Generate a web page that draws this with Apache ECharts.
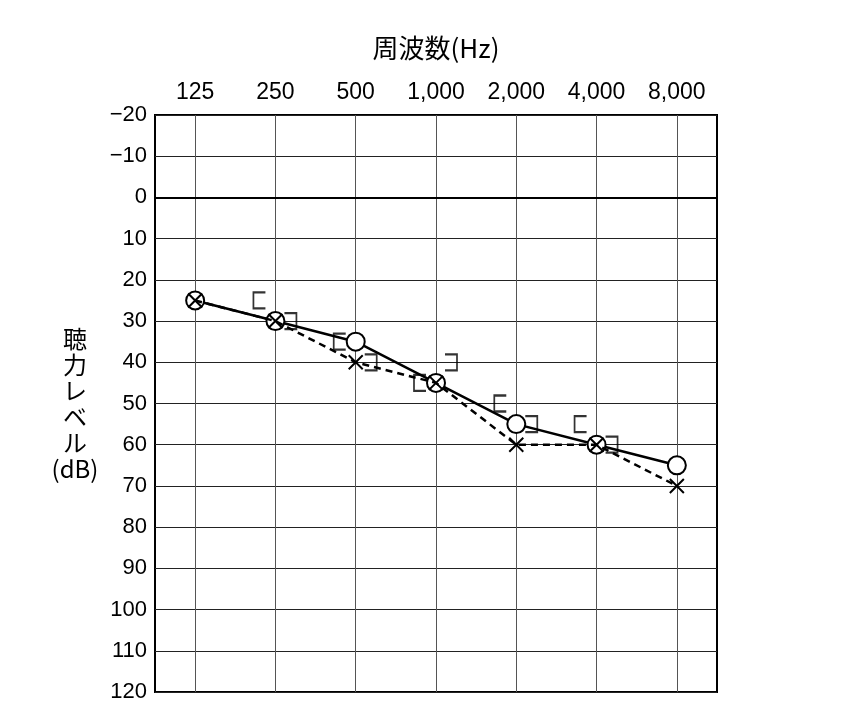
<!DOCTYPE html>
<html>
<head>
<meta charset="utf-8">
<script src="https://cdn.jsdelivr.net/npm/echarts@6/dist/echarts.min.js"></script>
<style>
html,body{margin:0;padding:0;background:#fff;}
#chart{width:847px;height:726px;}
</style>
</head>
<body>
<div id="chart"></div>
<script>
const categories = ['125', '250', '500', '1,000', '2,000', '4,000', '8,000'];
const rightAir = [25, 30, 35, 45, 55, 60, 65];
const leftAir = [25, 30, 40, 45, 60, 60, 70];
const rightBone = [null, 25, 35, 45, 50, 55, null];
const leftBone = [null, 30, 40, 40, 55, 60, null];
const yMin = -20, yMax = 120, yStep = 10;
const xTitle = '周波数(Hz)';
const yTitle = '聴\n力\nレ\nベ\nル\n(dB)';

const numFont = '"Liberation Sans", Arial, sans-serif';
const cjkFont = '"Noto Sans CJK JP", "Noto Sans", sans-serif';

const chart = echarts.init(document.getElementById('chart'), null, {renderer: 'canvas'});
chart.setOption({
  animation: false,
  backgroundColor: '#fff',
  grid: {left: 155, right: 130, top: 115, bottom: 34, show: true, borderColor: '#000', borderWidth: 2, backgroundColor: 'transparent'},
  xAxis: {
    type: 'category',
    position: 'top',
    data: categories,
    boundaryGap: true,
    name: xTitle,
    nameLocation: 'middle',
    nameGap: 54,
    nameTextStyle: {fontFamily: cjkFont, fontSize: 26, color: '#000'},
    axisLine: {show: false},
    axisTick: {show: false, alignWithLabel: true},
    axisLabel: {interval: 0, fontFamily: numFont, fontSize: 23, color: '#000', margin: 11},
    splitLine: {show: true, alignWithLabel: true, lineStyle: {color: '#555', width: 1}}
  },
  yAxis: {
    type: 'value',
    inverse: true,
    min: yMin,
    max: yMax,
    interval: yStep,
    name: yTitle,
    nameLocation: 'middle',
    nameRotate: 0,
    nameGap: 80,
    nameTextStyle: {fontFamily: cjkFont, fontSize: 24, color: '#000', align: 'center', lineHeight: 26},
    axisLine: {show: false},
    axisTick: {show: false},
    axisLabel: {fontFamily: numFont, fontSize: 22, color: '#000', margin: 8,
      formatter: v => (v < 0 ? '\u2212' + Math.abs(v) : String(v))},
    splitLine: {show: true, lineStyle: {color: '#222', width: 1}}
  },
  series: [
    {
      name: 'rightAir', type: 'line', data: rightAir,
      symbol: 'circle', symbolSize: 18,
      lineStyle: {color: '#000', width: 2.5, type: 'solid'},
      itemStyle: {color: '#fff', borderColor: '#000', borderWidth: 2},
      z: 3,
      markLine: {silent: true, symbol: 'none', label: {show: false},
        lineStyle: {color: '#000', width: 2, type: 'solid'}, data: [{yAxis: 0}]}
    },
    {
      name: 'leftAir', type: 'line', data: leftAir,
      symbol: 'path://M0,0 L10,10 M10,0 L0,10', symbolSize: 14,
      lineStyle: {color: '#000', width: 2.5, type: [7, 5]},
      itemStyle: {color: 'none', borderColor: '#000', borderWidth: 2},
      z: 4
    },
    {
      name: 'rightBone', type: 'scatter', data: rightBone,
      symbol: 'path://M10,0 L0,0 L0,16 L10,16', symbolSize: [12, 16], symbolOffset: [-16, 0],
      itemStyle: {color: 'none', borderColor: '#000', borderWidth: 2},
      z: 5
    },
    {
      name: 'leftBone', type: 'scatter', data: leftBone,
      symbol: 'path://M0,0 L10,0 L10,16 L0,16', symbolSize: [12, 16], symbolOffset: [15, 0],
      itemStyle: {color: 'none', borderColor: '#000', borderWidth: 2},
      z: 5
    }
  ]
});
</script>
</body>
</html>
